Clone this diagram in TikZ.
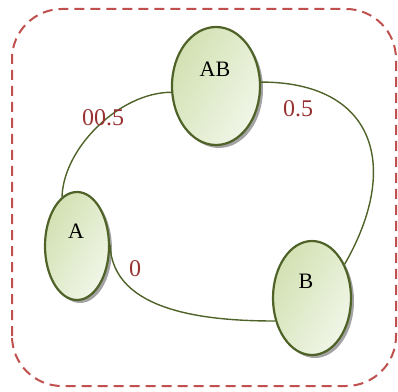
\documentclass[tikz,border=0pt]{standalone}
\usepackage{fontspec}
\setmainfont{Liberation Serif}
\usetikzlibrary{shapes.geometric,shadows}
\definecolor{edgegreen}{HTML}{4F6228}
\definecolor{lightgreen}{HTML}{D2E1B2}
\definecolor{palegreen}{HTML}{F1F6E8}
\definecolor{labelred}{HTML}{993333}
\definecolor{frame}{HTML}{C0504D}
\tikzset{
  state/.style={ellipse, draw=edgegreen, line width=2.2pt, inner sep=0pt,
    left color=lightgreen, right color=palegreen, shading angle=60,
    drop shadow={shadow xshift=3pt, shadow yshift=-3pt, fill=black!45, opacity=0.8}},
  statetext/.style={font=\fontsize{22}{22}\selectfont, text=black},
  weight/.style={font=\fontsize{24}{24}\selectfont, text=labelred},
  conn/.style={draw=edgegreen, line width=1.4pt},
}
\begin{document}
\begin{tikzpicture}[x=1pt,y=1pt]
\useasboundingbox (0,0) rectangle (398,391);
\draw[frame, line width=2pt, dash pattern=on 10pt off 6pt, rounded corners=50pt] (12,5) rectangle (396,382);
\node[state, minimum width=88pt, minimum height=118pt] (AB) at (216,305) {};
\node[state, minimum width=64pt, minimum height=108pt] (A) at (77,145) {};
\node[state, minimum width=78pt, minimum height=114pt] (B) at (312,93) {};
\node[statetext] (tAB) at (215,322) {AB};
\node[statetext] (tA) at (76,160) {A};
\node[statetext] (tB) at (306,110) {B};
\draw[conn] (A.107) to[out=88, in=180, looseness=0.85] (AB.188);
\draw[conn] (AB.5) to[out=0, in=60, looseness=1.45] (B.46);
\draw[conn] (A.2) to[out=-88, in=180, looseness=0.95] (B.212);
\node[weight] (w1) at (103,273) {00.5};
\node[weight] (w2) at (298,282) {0.5};
\node[weight] (w3) at (135,122) {0};
\end{tikzpicture}
\end{document}
